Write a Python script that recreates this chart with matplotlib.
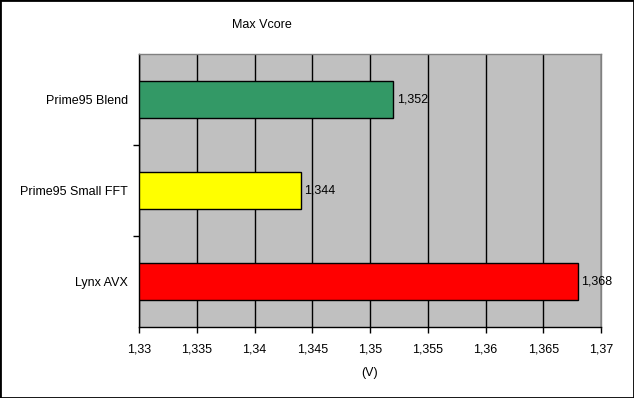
import matplotlib.pyplot as plt
from matplotlib.ticker import FuncFormatter, FixedLocator
from matplotlib.patches import Rectangle

categories = ["Prime95 Blend", "Prime95 Small FFT", "Lynx AVX"]
values = [1.352, 1.344, 1.368]
colors = ["#339966", "#FFFF00", "#FF0000"]
xticks = [1.33, 1.335, 1.34, 1.345, 1.35, 1.355, 1.36, 1.365, 1.37]

plt.rcParams["font.family"] = ["Liberation Sans", "DejaVu Sans"]
plt.rcParams["font.size"] = 9


def comma(v, pos=None):
    return f"{v:g}".replace(".", ",")


fig = plt.figure(figsize=(6.34, 3.98), dpi=100)
ax = fig.add_axes([139 / 634, 1 - 327 / 398, 462 / 634, 273 / 398])
ax.set_facecolor("#C0C0C0")

ypos = list(range(len(categories)))
ax.barh(ypos, [v - xticks[0] for v in values], left=xticks[0], height=0.4,
        color=colors, edgecolor="black", linewidth=1, zorder=3)
for y, v in zip(ypos, values):
    ax.text(v + 0.0003, y, comma(v), va="center", ha="left", zorder=4)

ax.set_xlim(xticks[0], xticks[-1])
ax.set_ylim(len(categories) - 0.5, -0.5)
ax.set_xticks(xticks)
ax.xaxis.set_major_formatter(FuncFormatter(comma))
ax.set_yticks(ypos)
ax.set_yticklabels(categories)
ax.yaxis.set_minor_locator(FixedLocator([0.5, 1.5]))
ax.tick_params(axis="y", which="major", length=0, pad=8)
ax.tick_params(axis="y", which="minor", length=4, direction="out", width=1)
ax.tick_params(axis="x", length=4, direction="out", width=1, pad=8)
ax.grid(axis="x", color="black", linewidth=1, zorder=1)
ax.set_axisbelow(True)

ax.spines["left"].set_color("black")
ax.spines["bottom"].set_color("black")
ax.spines["top"].set_color("#808080")
ax.spines["right"].set_color("#808080")
for s in ax.spines.values():
    s.set_linewidth(1)

ax.set_xlabel("(V)", labelpad=8)
fig.text(262 / 634, 1 - 25 / 398, "Max Vcore", ha="center", va="center")

fig.patches.append(Rectangle((0, 0), 1, 1, transform=fig.transFigure, fill=False,
                             edgecolor="black", linewidth=2))

fig.savefig("out.png", dpi=100)
